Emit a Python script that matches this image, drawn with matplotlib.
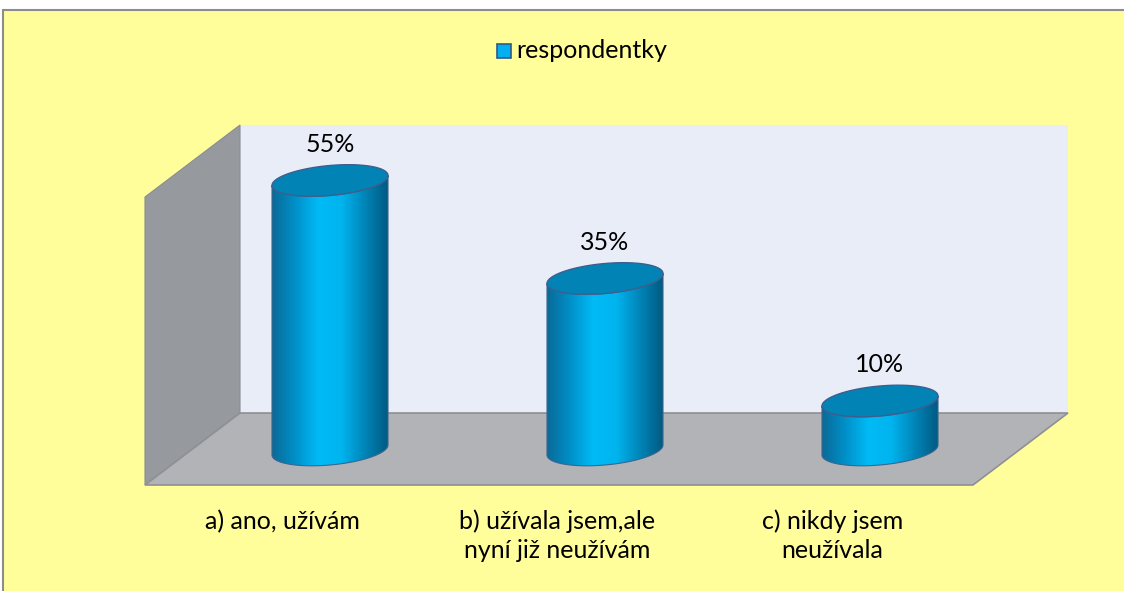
import numpy as np
import matplotlib
matplotlib.use("Agg")
import matplotlib.pyplot as plt
from matplotlib.patches import Polygon, Rectangle

plt.rcParams['font.family'] = ['Lato', 'DejaVu Sans']

categories = ["a) ano, užívám", "b) užívala jsem,ale\nnyní již neužívám", "c) nikdy jsem\nneužívala"]
values = [55, 35, 10]
labels = ["55%", "35%", "10%"]
series_name = "respondentky"

W, H = 1124, 591
fig = plt.figure(figsize=(W / 100, H / 100), dpi=100)
fig.patch.set_facecolor("white")

# background / 3d box in pixel coordinates
bg = fig.add_axes([0, 0, 1, 1], zorder=0)
bg.set_xlim(0, W)
bg.set_ylim(H, 0)
bg.axis("off")
bg.add_patch(Rectangle((3, 10), W, H, facecolor="#FFFE9A", edgecolor="#8C8C8C", lw=1.5))
bg.add_patch(Polygon([(240, 125), (1068, 125), (1068, 413), (240, 413)], closed=True,
                     facecolor="#E9EDF7", edgecolor="none"))
bg.add_patch(Polygon([(145, 197), (240, 125), (240, 413), (145, 485)], closed=True,
                     facecolor="#96999E", edgecolor="#8A8D92", lw=0.8))
bg.add_patch(Polygon([(240, 413), (1068, 413), (973, 485), (145, 485)], closed=True,
                     facecolor="#B1B3B7", edgecolor="#8E9094", lw=1.2))

# legend
bg.add_patch(Rectangle((497, 44), 14, 14, facecolor="#00B0F0", edgecolor="#2F5A86", lw=1.2))
bg.text(516, 51, series_name, fontsize=18, va="center", ha="left", color="black")

# data axes: x = category index, y = percent
ax = fig.add_axes([0, 0, 1, 1], zorder=1)
ax.set_facecolor("none")
ax.axis("off")
x0_px, dx_px = 330, 275      # pixel position of category 0, spacing
y0_px, dy_px = 450, 4.9      # pixel position of 0 %, px per percent
ax.set_xlim(-x0_px / dx_px, (W - x0_px) / dx_px)
ax.set_ylim((y0_px - H) / dy_px, y0_px / dy_px)

half_w = 58 / dx_px
semi_b = 15 / dy_px
tilt = 0.086 * dx_px / dy_px

cmap = matplotlib.colors.LinearSegmentedColormap.from_list(
    "cyl", ["#0A6A98", "#0090C8", "#00BBF6", "#00B4EE", "#0085B8", "#005A82"])
grad = np.linspace(0, 1, 256).reshape(1, -1)


def ellipse(xc, yc, t):
    ex = half_w * np.cos(t)
    return xc + ex, yc + semi_b * np.sin(t) + tilt * ex


for i, v in enumerate(values):
    tb = np.linspace(np.pi, 2 * np.pi, 80)
    bx, by = ellipse(i, 0, tb)
    tt = np.linspace(2 * np.pi, np.pi, 80)
    tx, ty = ellipse(i, v, tt)
    body = Polygon(np.column_stack([np.r_[bx, tx], np.r_[by, ty]]), closed=True,
                   facecolor="none", edgecolor="#3A6590", lw=0.8, zorder=3)
    ax.add_patch(body)
    im = ax.imshow(grad, cmap=cmap, aspect="auto", zorder=2,
                   extent=(i - half_w, i + half_w, -semi_b - tilt * half_w - 1, v + semi_b + tilt * half_w + 1))
    im.set_clip_path(body)
    t = np.linspace(0, 2 * np.pi, 160)
    ex, ey = ellipse(i, v, t)
    ax.add_patch(Polygon(np.column_stack([ex, ey]), closed=True,
                         facecolor="#0283B6", edgecolor="#3D5F8E", lw=1.0, zorder=4))
    ax.text(i, v + 7.4, labels[i], ha="center", va="center", fontsize=18, color="black", zorder=5)
    ax.text(i - 0.173, -12.2, categories[i], ha="center", va="top", fontsize=18,
            color="black", linespacing=1.32, zorder=5)

fig.savefig("out.png", dpi=100)
